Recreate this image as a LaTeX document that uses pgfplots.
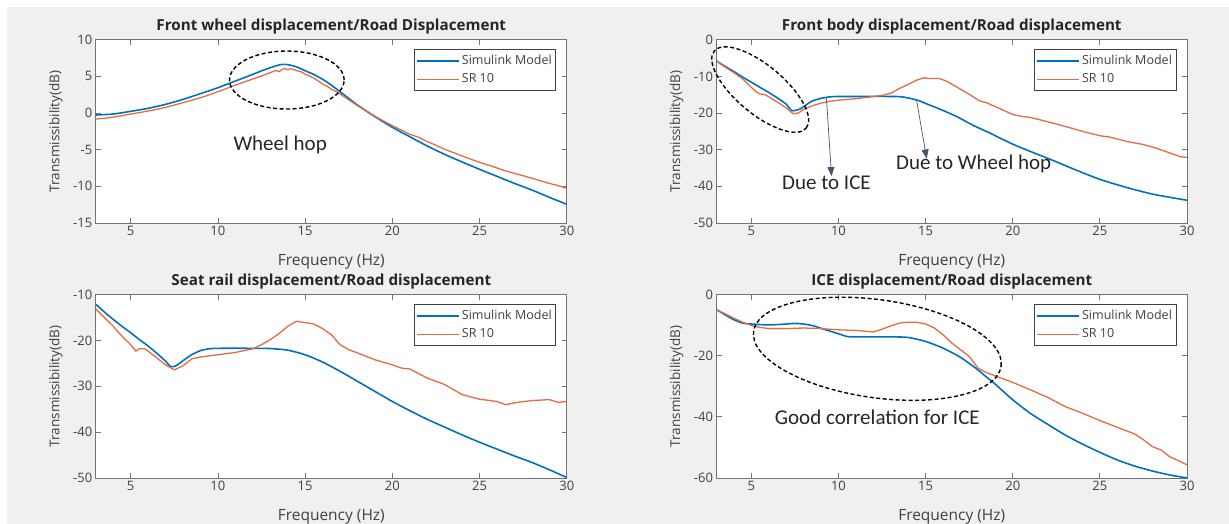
\documentclass[border=0pt]{standalone}
\usepackage{fontspec}
\setmainfont{Open Sans}
\newfontfamily\annfont{Carlito}
\usepackage{pgfplots}
\usepackage{pgfplotstable}
\pgfplotsset{compat=1.18}
\usetikzlibrary{arrows.meta}

\definecolor{mblue}{RGB}{0,114,189}
\definecolor{morange}{RGB}{228,108,66}
\definecolor{figbg}{RGB}{240,240,240}
\definecolor{axgray}{RGB}{115,115,115}
\definecolor{txtgray}{RGB}{64,64,64}
\definecolor{arrowc}{RGB}{68,84,106}

% Front wheel / road
\pgfplotstableread{
f db
3 -0.27
4 -0.14
5 0.23
6 0.64
7 1.18
8 1.86
9 2.64
10 3.45
11 4.36
12 5.27
12.5 5.75
13 6.18
13.5 6.55
13.7 6.64
14 6.6
14.5 6.3
15 5.77
15.5 5.25
16 4.6
16.5 3.8
17 2.9
17.5 2.0
18 1.09
19 -0.5
20 -1.95
21 -3.23
22 -4.5
23 -5.64
24 -6.68
25 -7.68
26 -8.64
27 -9.6
28 -10.5
29 -11.5
30 -12.45
}\wheelSim
\pgfplotstableread{
f db
3 -0.82
3.5 -0.72
4 -0.55
4.5 -0.36
5 -0.14
5.5 0.06
6 0.27
6.5 0.5
7 0.77
7.5 1.08
8 1.41
8.5 1.74
9 2.09
9.5 2.48
10 2.91
10.5 3.35
11 3.82
11.5 4.22
12 4.64
12.5 5.05
13 5.5
13.3 5.8
13.5 5.65
13.8 6.1
14 5.9
14.2 6.05
14.5 5.8
14.8 5.6
15 5.3
15.3 5.0
15.5 4.75
15.8 4.3
16 3.95
16.3 3.6
16.5 3.25
16.8 2.9
17 2.6
17.5 1.8
18 1.0
18.5 0.3
19 -0.45
19.5 -1.1
20 -1.73
20.5 -2.3
21 -2.9
21.5 -3.3
22 -3.9
22.5 -4.4
23 -4.95
23.5 -5.4
24 -5.86
24.5 -6.3
25 -6.73
25.5 -7.1
26 -7.5
26.5 -7.9
27 -8.23
27.5 -8.55
28 -8.9
28.5 -9.25
29 -9.6
29.5 -9.9
30 -10.27
}\wheelSR

% Front body / road
\pgfplotstableread{
f db
3 -5.8
3.5 -7.3
4 -8.7
4.5 -10.2
5 -11.6
5.5 -13.0
6 -14.4
6.5 -15.9
7 -17.6
7.3 -19.3
7.5 -19.3
7.8 -18.9
8.2 -17.6
8.5 -16.7
9 -16.0
9.5 -15.6
10 -15.5
13.3 -15.5
14 -15.9
14.6 -16.6
15 -17.4
15.8 -18.9
16.8 -21.0
17.7 -23.3
18.7 -25.5
20 -28.5
21.6 -31.6
22.5 -33.3
23.5 -35.3
25 -38.1
26.6 -40.4
28.1 -42.2
30 -43.8
}\bodySim
\pgfplotstableread{
f db
3 -5.8
3.5 -7.5
4 -9.0
4.5 -10.7
5 -13.0
5.3 -14.3
5.5 -14.8
5.8 -15.0
6 -15.6
6.5 -17.0
7 -18.6
7.4 -20.2
7.7 -20.0
8 -19.0
8.5 -18.0
9 -17.3
9.5 -16.8
10 -16.5
11 -16.1
12 -15.5
12.5 -15.2
13 -14.6
13.5 -13.3
14 -12.2
14.5 -11.0
14.9 -10.4
15.3 -10.6
15.8 -10.6
16.2 -11.3
16.6 -12.4
17 -13.5
17.4 -14.6
18.1 -16.7
18.5 -17.2
19.3 -18.9
20 -20.4
20.5 -20.9
21 -21.2
21.6 -21.9
22.5 -23.0
23.5 -24.3
24 -25.0
25 -26.2
25.5 -26.5
26.6 -27.8
27.5 -28.6
28.1 -29.4
28.6 -30.2
29.2 -31.2
29.6 -31.9
30 -32.1
}\bodySR

% Seat rail / road
\pgfplotstableread{
f db
3 -12.1
3.5 -13.8
4 -15.4
4.5 -16.9
5 -18.3
5.5 -19.8
6 -21.2
6.5 -22.8
7 -24.5
7.3 -25.7
7.6 -25.5
8 -24.4
8.5 -23.1
9 -22.2
9.5 -21.8
10 -21.7
12 -21.7
13 -21.75
14 -22.1
15 -23.1
16 -24.7
17 -26.7
18 -28.9
19 -31.1
20 -33.3
21 -35.3
22 -37.2
23 -38.9
24 -40.6
25 -42.2
26 -43.7
27 -45.2
28 -46.6
29 -48.2
30 -49.9
}\seatSim
\pgfplotstableread{
f db
3 -13.1
3.5 -15.0
4 -16.9
4.5 -19.05
5 -20.9
5.3 -22.3
5.5 -21.8
5.8 -21.8
6 -22.3
6.5 -23.8
7 -25.3
7.5 -26.4
8 -25.5
8.5 -24.0
9 -23.6
10 -23.1
11 -22.6
12 -21.8
12.5 -20.9
13 -19.8
13.5 -18.5
14 -16.9
14.5 -15.8
15 -16.1
15.5 -16.4
16 -17.4
16.5 -18.7
17 -20.9
17.5 -22.0
18 -22.7
19 -24.2
20 -25.3
20.5 -26.0
21 -26.2
22 -28.2
23 -29.6
24 -31.8
25 -32.8
26 -33.3
26.5 -34.0
27 -33.6
28 -33.1
29 -32.9
29.5 -33.5
30 -33.3
}\seatSR

% ICE / road
\pgfplotstableread{
f db
3 -4.9
3.5 -6.6
4 -8.2
4.5 -9.3
5 -9.6
6 -9.9
7 -9.6
7.5 -9.4
8 -9.6
8.5 -10.1
9 -11.0
10 -12.8
10.5 -13.7
11 -13.8
13 -13.8
14 -14.0
15 -15.3
16 -17.5
17 -20.5
18 -24.6
18.5 -27.0
19 -29.3
20 -34.4
21 -38.8
22 -42.4
23 -45.9
24 -48.9
25 -51.6
26 -54.1
27 -56.1
28 -57.7
29 -59.0
30 -60.0
}\iceSim
\pgfplotstableread{
f db
3 -4.9
3.5 -6.3
4 -7.7
4.5 -9.0
5 -10.1
5.5 -10.7
6 -11.1
7 -11.1
8 -10.9
9 -11.1
10 -11.5
11 -11.7
12 -12.2
12.5 -11.3
13 -10.2
13.5 -9.3
14 -9.0
14.5 -9.0
15 -9.6
15.5 -10.9
16 -13.1
16.5 -15.8
17 -18.0
17.5 -20.2
18 -24.0
18.5 -25.5
19 -26.6
20 -28.7
21 -31.1
22 -33.6
23 -36.6
24 -38.8
25 -41.2
26 -43.4
27 -45.6
27.5 -47.5
28 -49.7
28.5 -50.8
29 -53.0
29.5 -54.3
30 -55.7
}\iceSR

\tikzset{
  ring/.style={black, line width=1.4pt, dash pattern=on 4pt off 2.5pt},
  ann/.style={font=\annfont\fontsize{21}{21}\selectfont, text=black!85},
  pointer/.style={arrowc, line width=0.7pt, -{Triangle[length=9pt, width=7pt]}},
}

\pgfplotsset{
  panel/.style={
    scale only axis, height=183.3pt,
    xmin=3, xmax=30, xtick={5,10,...,30},
    clip=false,
    axis background/.style={fill=white},
    axis line style={axgray, line width=0.8pt},
    tick style={axgray, line width=0.8pt},
    major tick length=5pt,
    tick align=inside,
    ticklabel style={font=\fontsize{13}{13}\selectfont, text=txtgray},
    /pgf/number format/assume math mode=true,
    title style={font=\bfseries\fontsize{15.2}{16}\selectfont, text=black!85,
      at={(axis description cs:0.5,1)}, anchor=base, yshift=3.5pt},
    xlabel={Frequency (Hz)},
    ylabel={Transmissibility(dB)},
    xlabel style={font=\fontsize{15.5}{16}\selectfont, text=txtgray,
      at={(axis description cs:0.5,0)}, anchor=center, yshift=-39pt},
    ylabel style={font=\fontsize{13.5}{14}\selectfont, text=txtgray,
      at={([xshift=-40pt]axis description cs:0,0.5)}, anchor=center},
    legend style={at={(1,1)}, anchor=north east, xshift=-10.7pt, yshift=-9.3pt,
      draw=black!75, line width=0.8pt, fill=white,
      font=\fontsize{12.5}{12.5}\selectfont, text=txtgray,
      inner xsep=2pt, inner ysep=4pt, row sep=3.5pt},
    legend cell align=left,
    legend image code/.code={\draw[#1] (0pt,0pt) -- (42pt,0pt);},
  },
  sim/.style={mblue, line width=1.6pt, mark=none, smooth, tension=0.4},
  sr/.style={morange, line width=1.3pt, mark=none},
}

\begin{document}
\begin{tikzpicture}
\useasboundingbox (0pt,0pt) rectangle (1229pt,524pt);
\fill[white] (0pt,0pt) rectangle (1229pt,524pt);
\fill[figbg] (7pt,0pt) rectangle (1229pt,517pt);

% Front wheel displacement
\begin{axis}[panel, width=471pt, at={(95.8pt,301pt)}, anchor=south west,
  title={Front wheel displacement/Road Displacement},
  ymin=-15, ymax=10, ytick={-15,-10,...,10}]
\addplot[sim] table[x=f,y=db] {\wheelSim};
\addplot[sr] table[x=f,y=db] {\wheelSR};
\legend{Simulink Model, SR 10}
\draw[ring] (axis cs:13.95,4.5) ellipse [x radius=57.3pt, y radius=29pt];
\node[ann] at (axis cs:13.57,-4.4) {Wheel hop};
\end{axis}

% Front body displacement
\begin{axis}[panel, width=470.5pt, at={(716.5pt,301pt)}, anchor=south west,
  title={Front body displacement/Road displacement},
  ymin=-50, ymax=0, ytick={-50,-40,...,0}]
\addplot[sim] table[x=f,y=db] {\bodySim};
\addplot[sr] table[x=f,y=db] {\bodySR};
\legend{Simulink Model, SR 10}
\draw[ring] (axis cs:5.51,-13.6) ellipse [x radius=60pt, y radius=24pt, rotate=-40];
\draw[pointer] (axis cs:9.31,-16) -- (axis cs:9.6,-37.2);
\draw[pointer] (axis cs:14.48,-16.5) -- (axis cs:15.06,-32.4);
\node[ann] at (axis cs:9.31,-39.0) {Due to ICE};
\node[ann] at (axis cs:17.76,-34.0) {Due to Wheel hop};
\end{axis}

% Seat rail displacement
\begin{axis}[panel, width=471pt, at={(95.8pt,46pt)}, anchor=south west,
  title={Seat rail displacement/Road displacement},
  ymin=-50, ymax=-10, ytick={-50,-40,...,-10}]
\addplot[sim] table[x=f,y=db] {\seatSim};
\addplot[sr] table[x=f,y=db] {\seatSR};
\legend{Simulink Model, SR 10}
\end{axis}

% ICE displacement
\begin{axis}[panel, width=470.5pt, at={(716.5pt,46pt)}, anchor=south west,
  title={ICE displacement/Road displacement},
  ymin=-60, ymax=0, ytick={-60,-40,...,0}]
\addplot[sim] table[x=f,y=db] {\iceSim};
\addplot[sr] table[x=f,y=db] {\iceSR};
\legend{Simulink Model, SR 10}
\draw[ring] (axis cs:12.23,-17.7) ellipse [x radius=125pt, y radius=49pt, rotate=-8];
\node[ann] at (axis cs:12.23,-40.2) {Good correlation for ICE};
\end{axis}
\end{tikzpicture}
\end{document}
